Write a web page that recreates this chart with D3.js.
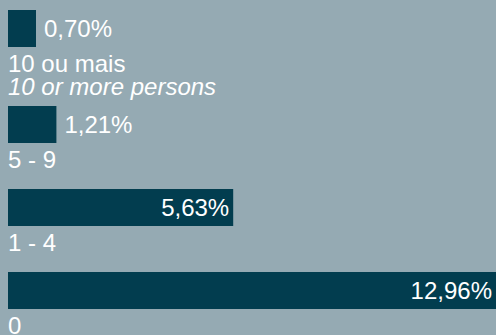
<!DOCTYPE html>
<html>
<head>
<meta charset="utf-8">
<script src="https://cdn.jsdelivr.net/npm/d3@7"></script>
<style>
  html, body { margin: 0; padding: 0; background: #95aab3; }
  svg { display: block; }
</style>
</head>
<body>
<svg id="svg"></svg>
<script>
// data
var categories = ["10 ou mais", "5 - 9", "1 - 4", "0"];
var subLabels = ["10 or more persons", "", "", ""];
var values = [0.70, 1.21, 5.63, 12.96];
var valueLabels = ["0,70%", "1,21%", "5,63%", "12,96%"];

// look
var width = 496;
var height = 335;
var bgColor = "#95aab3";
var barColor = "#023d4f";
var textColor = "#ffffff";
var fontFamily = "'Liberation Sans', Arial, sans-serif";
var fontSize = 24;
var marginLeft = 8;
var top0 = 10;
var barHeight = 37;
var labelOffset = 25;   // bar bottom -> category baseline
var lineHeight = 23;
var groupHeight = 83;   // for one line of label
var extraLine = 13;

var svg = d3.select("#svg")
    .attr("width", width)
    .attr("height", height)
    .style("background-color", bgColor);

var x = d3.scaleLinear()
    .domain([0, 12])
    .range([0, 480]);

// vertical layout: groups stack, taller when label has a second line
var rows = [];
var y = top0;
for (var i = 0; i < categories.length; i++) {
  var lines = subLabels[i] ? 2 : 1;
  rows.push({
    cat: categories[i],
    sub: subLabels[i],
    val: values[i],
    lab: valueLabels[i],
    y: y
  });
  y += groupHeight + (lines - 1) * extraLine;
}

var g = svg.append("g")
    .attr("font-family", fontFamily)
    .attr("font-size", fontSize)
    .attr("fill", textColor);

var row = g.selectAll("g.row")
    .data(rows)
    .enter()
    .append("g")
    .attr("class", "row")
    .attr("transform", function(d) { return "translate(0," + d.y + ")"; });

row.append("rect")
    .attr("x", marginLeft)
    .attr("y", 0)
    .attr("width", function(d) { return x(d.val); })
    .attr("height", barHeight)
    .attr("fill", barColor);

// value labels: inside (right aligned) when they fit, otherwise after the bar
row.append("text")
    .attr("y", barHeight / 2)
    .attr("dy", "0.36em")
    .text(function(d) { return d.lab; })
    .each(function(d) {
      var t = d3.select(this);
      var tw = this.getComputedTextLength();
      var end = Math.min(marginLeft + x(d.val), width);
      if (x(d.val) > tw + 14) {
        t.attr("x", end - 4).attr("text-anchor", "end");
      } else {
        t.attr("x", end + 8).attr("text-anchor", "start");
      }
    });

row.append("text")
    .attr("x", marginLeft)
    .attr("y", barHeight + labelOffset)
    .text(function(d) { return d.cat; });

row.filter(function(d) { return d.sub; })
  .append("text")
    .attr("x", marginLeft)
    .attr("y", barHeight + labelOffset + lineHeight)
    .attr("font-style", "italic")
    .text(function(d) { return d.sub; });
</script>
</body>
</html>
